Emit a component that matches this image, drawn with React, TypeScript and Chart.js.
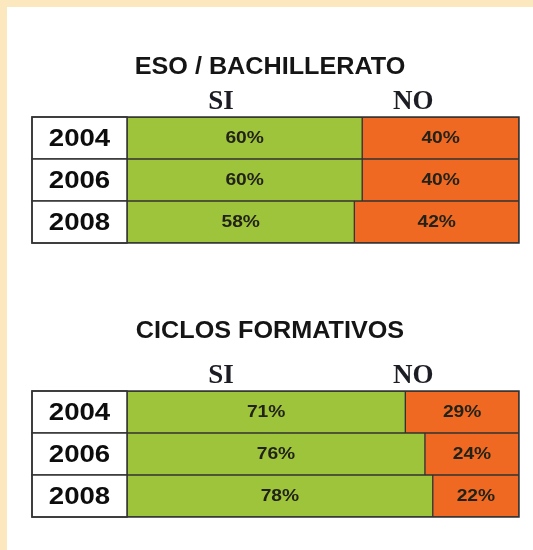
import React, { useEffect, useRef } from "react";
import { Chart, registerables } from "chart.js";

Chart.register(...registerables);

const years = ["2004", "2006", "2008"];
const headers = ["SI", "NO"];
const esoTitle = "ESO / BACHILLERATO";
const esoSi = [60, 60, 58];
const esoNo = [40, 40, 42];
const ciclosTitle = "CICLOS FORMATIVOS";
const ciclosSi = [71, 76, 78];
const ciclosNo = [29, 24, 22];

const GREEN = "#9DC43A";
const ORANGE = "#EF6923";
const LINE = "#333333";
const YEAR_COL = 95;

const tablePlugin = {
  id: "tablePlugin",
  afterDatasetsDraw(chart: any, _args: any, opts: any) {
    const ctx = chart.ctx;
    const area = chart.chartArea;
    const y = chart.scales.y;
    const labels: string[] = chart.data.labels;
    const rowH = area.height / labels.length;
    ctx.save();
    // title, centred on the full canvas
    ctx.save();
    ctx.translate(chart.width / 2, opts.titleY);
    ctx.scale(1.05, 1);
    ctx.fillStyle = "#151515";
    ctx.font = "bold 24px 'Liberation Sans', Arial, sans-serif";
    ctx.textAlign = "center";
    ctx.textBaseline = "middle";
    ctx.fillText(opts.title, 0, 0);
    ctx.restore();
    // year cells
    labels.forEach((lab, i) => {
      const yc = y.getPixelForValue(i);
      const top = yc - rowH / 2;
      ctx.fillStyle = "#ffffff";
      ctx.fillRect(area.left - YEAR_COL, top, YEAR_COL, rowH);
      ctx.strokeStyle = LINE;
      ctx.lineWidth = 1.5;
      ctx.strokeRect(area.left - YEAR_COL, top, YEAR_COL, rowH);
      ctx.save();
      ctx.translate(area.left - YEAR_COL / 2, yc + 1);
      ctx.scale(1.15, 1);
      ctx.fillStyle = "#0d0d0d";
      ctx.font = "bold 24px 'Liberation Sans', Arial, sans-serif";
      ctx.textAlign = "center";
      ctx.textBaseline = "middle";
      ctx.fillText(lab, 0, 0);
      ctx.restore();
    });
    // value labels
    chart.data.datasets.forEach((ds: any, d: number) => {
      const meta = chart.getDatasetMeta(d);
      meta.data.forEach((el: any, i: number) => {
        const cx = (el.x + el.base) / 2;
        ctx.save();
        ctx.translate(cx, el.y + 1);
        ctx.scale(1.2, 1);
        ctx.fillStyle = "#222218";
        ctx.font = "bold 16px 'Liberation Sans', Arial, sans-serif";
        ctx.textAlign = "center";
        ctx.textBaseline = "middle";
        ctx.fillText(ds.data[i] + "%", 0, 0);
        ctx.restore();
      });
    });
    // outer border
    ctx.strokeStyle = LINE;
    ctx.lineWidth = 1.5;
    ctx.strokeRect(area.left - YEAR_COL, area.top, area.width + YEAR_COL, area.height);
    // headers
    const hx = [0.24, 0.73];
    ctx.fillStyle = "#1c1c24";
    ctx.font = "bold 27px 'Liberation Serif', 'Times New Roman', serif";
    ctx.textAlign = "center";
    ctx.textBaseline = "alphabetic";
    headers.forEach((h, i) => {
      ctx.fillText(h, area.left + area.width * hx[i], area.top - 8);
    });
    ctx.restore();
  },
};

function TableChart(props: {
  title: string;
  si: number[];
  no: number[];
  titleY: number;
  layoutTop: number;
  layoutBottom: number;
  top: number;
}) {
  const ref = useRef<HTMLCanvasElement>(null);
  useEffect(() => {
    if (!ref.current) return;
    const chart = new Chart(ref.current, {
      type: "bar",
      data: {
        labels: years,
        datasets: [
          {
            label: headers[0],
            data: props.si,
            backgroundColor: GREEN,
            borderColor: LINE,
            borderWidth: 1,
            borderSkipped: false,
            barPercentage: 1,
            categoryPercentage: 1,
          },
          {
            label: headers[1],
            data: props.no,
            backgroundColor: ORANGE,
            borderColor: LINE,
            borderWidth: 1,
            borderSkipped: false,
            barPercentage: 1,
            categoryPercentage: 1,
          },
        ],
      },
      options: {
        indexAxis: "y",
        responsive: false,
        animation: false,
        devicePixelRatio: 1,
        layout: {
          padding: { left: 120, right: 14, top: props.layoutTop, bottom: props.layoutBottom },
        },
        scales: {
          x: { stacked: true, min: 0, max: 100, display: false },
          y: { stacked: true, display: false },
        },
        plugins: {
          legend: { display: false },
          tooltip: { enabled: false },
          title: { display: false },
          tablePlugin: { title: props.title, titleY: props.titleY },
        },
      },
      plugins: [tablePlugin],
    } as any);
    return () => chart.destroy();
  }, []);
  return (
    <canvas
      ref={ref}
      width={526}
      height={260}
      style={{ position: "absolute", left: 0, top: props.top, width: 526, height: 260 }}
    />
  );
}

export default function App() {
  return (
    <div
      style={{
        position: "absolute",
        left: 0,
        top: 0,
        width: 533,
        height: 550,
        background: "#FCE8BE",
        overflow: "hidden",
      }}
    >
      <div
        style={{
          position: "absolute",
          left: 7,
          top: 7,
          width: 526,
          height: 543,
          background: "#ffffff",
        }}
      >
        <TableChart title={esoTitle} si={esoSi} no={esoNo} top={0} titleY={60} layoutTop={110} layoutBottom={24} />
        <TableChart title={ciclosTitle} si={ciclosSi} no={ciclosNo} top={270} titleY={54} layoutTop={114} layoutBottom={20} />
      </div>
    </div>
  );
}
